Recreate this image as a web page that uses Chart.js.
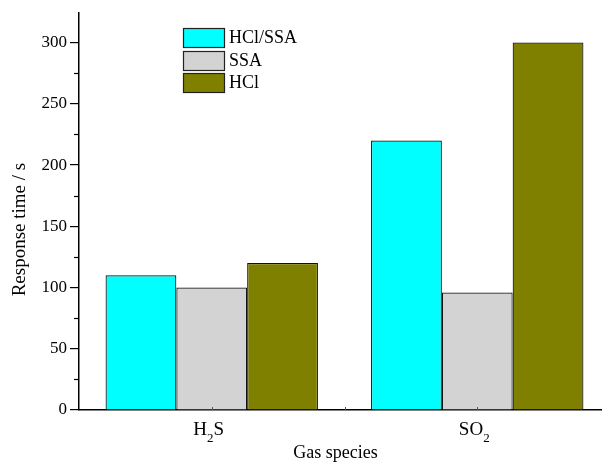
<!DOCTYPE html>
<html>
<head>
<meta charset="utf-8">
<script src="https://cdn.jsdelivr.net/npm/chart.js@4/dist/chart.umd.min.js"></script>
<style>
  html, body { margin: 0; padding: 0; background: #fff; overflow: hidden; }
  #wrap { width: 612px; height: 463px; }
</style>
</head>
<body>
<div id="wrap"><canvas id="c" width="612" height="463"></canvas></div>
<script>
// Gas species on the x axis
const categories = ['H\u2082S', 'SO\u2082'];
// Response times (s) per sensing material
const hclSsa = [110, 220];
const ssa = [100, 96];
const hcl = [120, 300];
const seriesNames = ['HCl/SSA', 'SSA', 'HCl'];
const seriesColors = ['#00ffff', '#d3d3d3', '#808000'];
const yTicks = [0, 50, 100, 150, 200, 250, 300];
const xTitle = 'Gas species';
const yTitle = 'Response time / s';

const FONT = '"Liberation Serif", "Times New Roman", serif';

// Minor y ticks halfway between labelled ones, plus small inward x ticks
const axisMarks = {
  id: 'axisMarks',
  afterDraw(chart) {
    const y = chart.scales.y;
    const x = chart.scales.x;
    const ctx = chart.ctx;
    ctx.save();
    ctx.strokeStyle = '#000';
    ctx.lineWidth = 1.2;
    for (let i = 0; i < yTicks.length - 1; i++) {
      const v = (yTicks[i] + yTicks[i + 1]) / 2;
      const py = Math.round(y.getPixelForValue(v)) + 0.5;
      ctx.beginPath();
      ctx.moveTo(y.right - 5, py);
      ctx.lineTo(y.right, py);
      ctx.stroke();
    }
    ctx.lineWidth = 1;
    ctx.strokeStyle = '#555';
    const marks = [];
    categories.forEach((c, i) => marks.push(x.getPixelForValue(i)));
    for (let i = 0; i < categories.length - 1; i++) marks.push((marks[i] + marks[i + 1]) / 2);
    marks.forEach(px => {
      const xx = Math.round(px) + 0.5;
      ctx.beginPath();
      ctx.moveTo(xx, x.top);
      ctx.lineTo(xx, x.top - 3);
      ctx.stroke();
    });
    ctx.restore();
  }
};

// Category labels with subscript digits, and the two axis titles
const axisText = {
  id: 'axisText',
  afterDraw(chart) {
    const x = chart.scales.x;
    const y = chart.scales.y;
    const ctx = chart.ctx;
    const mainFont = '19px ' + FONT;
    const subFont = '13px ' + FONT;
    const base = 435;
    ctx.save();
    ctx.fillStyle = '#000';
    ctx.textBaseline = 'alphabetic';
    categories.forEach((label, i) => {
      const parts = [];
      for (const ch of label) {
        const code = ch.charCodeAt(0);
        const isSub = code >= 0x2080 && code <= 0x2089;
        const txt = isSub ? String(code - 0x2080) : ch;
        const last = parts[parts.length - 1];
        if (last && last.sub === isSub) last.txt += txt;
        else parts.push({ txt, sub: isSub });
      }
      let total = 0;
      parts.forEach(p => {
        ctx.font = p.sub ? subFont : mainFont;
        p.w = ctx.measureText(p.txt).width;
        total += p.w;
      });
      let px = x.getPixelForValue(i) - total / 2 - 3;
      parts.forEach(p => {
        ctx.font = p.sub ? subFont : mainFont;
        ctx.fillText(p.txt, px, p.sub ? base + 7 : base);
        px += p.w;
      });
    });

    // x title
    ctx.font = '18px ' + FONT;
    ctx.textAlign = 'center';
    ctx.fillText(xTitle, (x.left + x.right) / 2 - 9, 458);

    // y title, rotated
    ctx.font = '19px ' + FONT;
    ctx.translate(25, (y.top + y.bottom) / 2 + 18);
    ctx.rotate(-Math.PI / 2);
    ctx.fillText(yTitle, 0, 0);
    ctx.restore();
  }
};

// Legend drawn inside the plot area
const innerLegend = {
  id: 'innerLegend',
  afterDraw(chart) {
    const ctx = chart.ctx;
    const x0 = 183, y0 = 28, bw = 41, bh = 19, gap = 22.5;
    ctx.save();
    ctx.font = '18px ' + FONT;
    ctx.textBaseline = 'middle';
    chart.data.datasets.forEach((ds, i) => {
      const yy = Math.round(y0 + i * gap);
      ctx.fillStyle = ds.backgroundColor;
      ctx.fillRect(x0, yy, bw, bh);
      ctx.strokeStyle = '#222';
      ctx.lineWidth = 1.2;
      ctx.strokeRect(x0 + 0.5, yy + 0.5, bw, bh);
      ctx.fillStyle = '#000';
      ctx.fillText(ds.label, x0 + bw + 5, yy + bh / 2 + 1);
    });
    ctx.restore();
  }
};

new Chart(document.getElementById('c'), {
  type: 'bar',
  data: {
    labels: categories,
    datasets: [hclSsa, ssa, hcl].map((d, i) => ({
      label: seriesNames[i],
      data: d,
      backgroundColor: seriesColors[i],
      borderColor: '#111',
      borderWidth: 1.2,
      borderSkipped: 'bottom',
      categoryPercentage: 0.8,
      barPercentage: 1.0
    }))
  },
  options: {
    responsive: false,
    animation: false,
    devicePixelRatio: 1,
    layout: { padding: { top: 11, right: 2, left: 0, bottom: 0 } },
    plugins: {
      legend: { display: false },
      tooltip: { enabled: false }
    },
    scales: {
      x: {
        grid: { display: false, drawTicks: false },
        border: { display: true, color: '#000', width: 1.5 },
        ticks: { display: false },
        afterFit(scale) { scale.height = 53; }
      },
      y: {
        min: 0,
        max: 324,
        afterBuildTicks(scale) { scale.ticks = yTicks.map(v => ({ value: v })); },
        grid: { display: true, drawOnChartArea: false, drawTicks: true, tickLength: 9, color: '#000', lineWidth: 1.2 },
        border: { display: true, color: '#000', width: 1.5 },
        ticks: {
          color: '#000',
          font: { family: FONT, size: 17 },
          padding: 3
        },
        afterFit(scale) { scale.width = 79; }
      }
    }
  },
  plugins: [axisMarks, axisText, innerLegend]
});
</script>
</body>
</html>
